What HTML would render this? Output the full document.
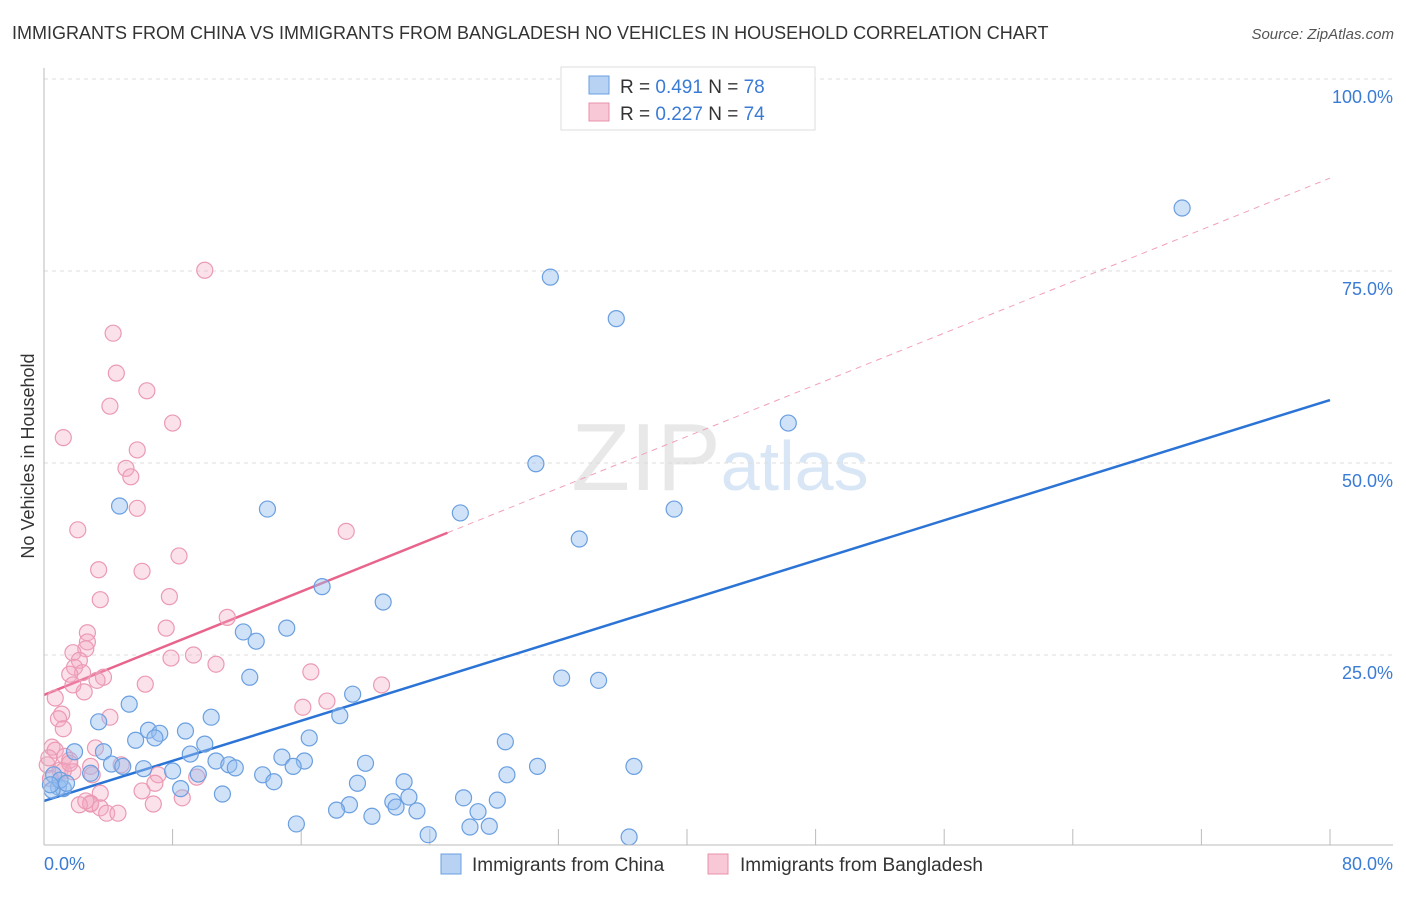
<!DOCTYPE html>
<html><head><meta charset="utf-8"><style>
body{margin:0;background:#fff;font-family:"Liberation Sans",sans-serif;}
svg text{font-family:"Liberation Sans",sans-serif;}
</style></head><body>
<svg id="chart" width="1406" height="892" xmlns="http://www.w3.org/2000/svg">
<text x="12" y="39" font-size="18" fill="#333">IMMIGRANTS FROM CHINA VS IMMIGRANTS FROM BANGLADESH NO VEHICLES IN HOUSEHOLD CORRELATION CHART</text>
<text x="1394" y="39" font-size="15" fill="#555" font-style="italic" text-anchor="end">Source: ZipAtlas.com</text>
<text x="720" y="490" font-size="96" fill="#e8e8e8" text-anchor="middle" font-family="Liberation Serif">ZIP<tspan font-family="Liberation Sans" font-size="70" fill="#d8e6f6">atlas</tspan></text>
<text transform="translate(34,456) rotate(-90)" font-size="18" fill="#333" text-anchor="middle">No Vehicles in Household</text>
<g id="grid"></g><g id="ticks"></g><g id="lines"></g><g id="pts"></g>
<line x1="44" y1="68" x2="44" y2="845" stroke="#bbb"/>
<line x1="44" y1="845" x2="1393" y2="845" stroke="#bbb"/>
<text x="44" y="870" font-size="18" fill="#3a7bd5">0.0%</text>
<text x="1393" y="870" font-size="18" fill="#3a7bd5" text-anchor="end">80.0%</text>
<g>
<rect x="561" y="67" width="254" height="63" fill="#fff" stroke="#ddd"/>
<rect x="589" y="76" width="20" height="18" fill="#b8d2f4" stroke="#6a9fe0"/>
<rect x="589" y="103" width="20" height="18" fill="#f8c8d6" stroke="#e890aa"/>
<text x="620" y="93" font-size="19" fill="#333">R = <tspan fill="#3a7bd5">0.491</tspan>   N = <tspan fill="#3a7bd5">78</tspan></text>
<text x="620" y="120" font-size="19" fill="#333">R = <tspan fill="#3a7bd5">0.227</tspan>   N = <tspan fill="#3a7bd5">74</tspan></text>
</g>
<g>
<rect x="441" y="854" width="20" height="20" fill="#b8d2f4" stroke="#6a9fe0"/>
<text x="472" y="871" font-size="19" fill="#333">Immigrants from China</text>
<rect x="708" y="854" width="20" height="20" fill="#f8c8d6" stroke="#e890aa"/>
<text x="740" y="871" font-size="19" fill="#333">Immigrants from Bangladesh</text>
</g>
</svg>
<script>
const yTicks=[25,50,75,100];
const yTickLabels=["25.0%","50.0%","75.0%","100.0%"];
const xTicks=[8,16,24,32,40,48,56,64,72,80];
const chinaX=[70.8,31.5,35.6,46.3,30.6,39.2,25.9,4.7,13.9,33.3,17.3,21.1,12.4,13.2,15.1,12.8,32.2,34.5,19.2,5.3,18.4,10.4,3.4,6.5,7.2,8.8,6.9,5.7,16.5,28.7,10.0,3.7,1.9,9.1,14.8,16.2,20.0,10.7,11.5,11.9,30.7,36.7,4.2,4.9,15.5,6.2,8.0,13.6,28.8,2.9,0.6,14.3,9.6,19.5,22.4,8.5,0.9,1.2,0.5,11.1,22.7,26.1,28.2,21.7,19.0,21.9,18.2,23.2,27.0,20.4,15.7,26.5,27.7,23.9,36.4,1.0,0.4,1.4];
const chinaY=[83.2,74.2,68.8,55.2,49.9,44.0,43.5,44.4,44.0,40.1,33.9,31.9,28.0,26.8,28.5,22.1,22.0,21.7,19.9,18.6,17.1,16.9,16.3,15.2,14.8,15.1,14.2,13.9,14.2,13.7,13.4,12.4,12.4,12.1,11.7,11.2,10.9,11.2,10.7,10.3,10.5,10.5,10.8,10.5,10.5,10.2,9.9,9.4,9.4,9.6,9.4,8.5,9.5,8.3,8.5,7.6,7.8,7.6,7.4,6.9,6.5,6.4,6.1,5.9,5.5,5.2,4.8,4.7,4.6,4.0,3.0,2.6,2.7,1.6,1.3,8.7,8.1,8.3];
const bangX=[10.0,4.3,4.5,6.4,4.1,8.0,1.2,5.8,5.1,5.4,5.8,18.8,2.1,8.4,3.4,6.1,7.8,3.5,11.4,7.6,2.7,2.7,2.6,1.8,9.3,7.9,2.2,1.9,10.7,16.6,2.4,1.6,3.7,3.3,6.3,1.8,21.0,2.5,0.7,17.6,16.1,1.1,4.1,0.9,1.2,0.5,3.2,0.7,1.3,1.6,0.2,2.9,4.8,1.0,1.8,3.0,7.1,9.5,0.4,6.9,6.1,3.5,8.6,2.9,2.9,2.2,6.8,2.6,3.5,3.9,4.6,1.2,1.6,0.3];
const bangY=[75.1,66.9,61.7,59.4,57.4,55.2,53.3,51.7,49.3,48.2,44.1,41.1,41.3,37.9,36.1,35.9,32.6,32.2,29.9,28.5,27.9,26.7,25.8,25.3,25.0,24.6,24.3,23.4,23.8,22.8,22.7,22.5,22.1,21.7,21.2,21.1,21.1,20.2,19.4,19.0,18.2,17.3,16.9,16.7,15.4,13.0,12.9,12.6,11.8,11.3,10.7,10.5,10.7,10.0,9.8,9.4,9.4,9.1,8.9,8.3,7.3,7.0,6.4,5.7,5.6,5.5,5.6,6.0,5.1,4.4,4.4,9.9,10.9,11.6];
const chinaTrend=[6.0,58.2];
const bangTrend=[19.8,87.1];
const bangSolidEnd=25.1;
const NS="http://www.w3.org/2000/svg";
function sx(v){return 44+v*(1330-44)/80;}
function sy(v){return 847-v*7.68;}
function mk(tag,attrs,parent){const e=document.createElementNS(NS,tag);for(const k in attrs)e.setAttribute(k,attrs[k]);document.getElementById(parent).appendChild(e);return e;}
yTicks.forEach((t,i)=>{
 const l=mk('line',{x1:44,x2:1393,y1:sy(t),y2:sy(t),stroke:'#ddd','stroke-dasharray':'4,4'},'grid');
 
 
 const tx=mk('text',{x:1393,y:sy(t)+24,'font-size':18,fill:'#3a7bd5','text-anchor':'end'},'grid');
 tx.textContent=yTickLabels[i];
 
 
});
xTicks.forEach(t=>{
 const l=mk('line',{x1:sx(t),x2:sx(t),y1:829,y2:845,stroke:'#bbb'},'ticks');
 
 
});
function ty(tr,x){return tr[0]+(tr[1]-tr[0])*x/80;}
let a=mk('line',{x1:sx(0),y1:sy(chinaTrend[0]),x2:sx(80),y2:sy(chinaTrend[1]),stroke:'#2b74d6','stroke-width':2.5},'lines');


let b=mk('line',{x1:sx(bangSolidEnd),y1:sy(ty(bangTrend,bangSolidEnd)),x2:sx(80),y2:sy(bangTrend[1]),stroke:'#f0a0b8','stroke-width':1,'stroke-dasharray':'6,5'},'lines');


let c=mk('line',{x1:sx(0),y1:sy(bangTrend[0]),x2:sx(bangSolidEnd),y2:sy(ty(bangTrend,bangSolidEnd)),stroke:'#e8648c','stroke-width':2.5},'lines');


bangX.forEach((x,i)=>{
 const p=mk('circle',{cx:sx(x),cy:sy(bangY[i]),r:8,fill:'rgba(244,170,195,0.35)',stroke:'#eb9ab3','stroke-width':1.2},'pts');
 
 
});
chinaX.forEach((x,i)=>{
 const p=mk('circle',{cx:sx(x),cy:sy(chinaY[i]),r:8,fill:'rgba(150,190,240,0.45)',stroke:'#6a9fe0','stroke-width':1.2},'pts');
 
 
});
</script>
</body></html>
